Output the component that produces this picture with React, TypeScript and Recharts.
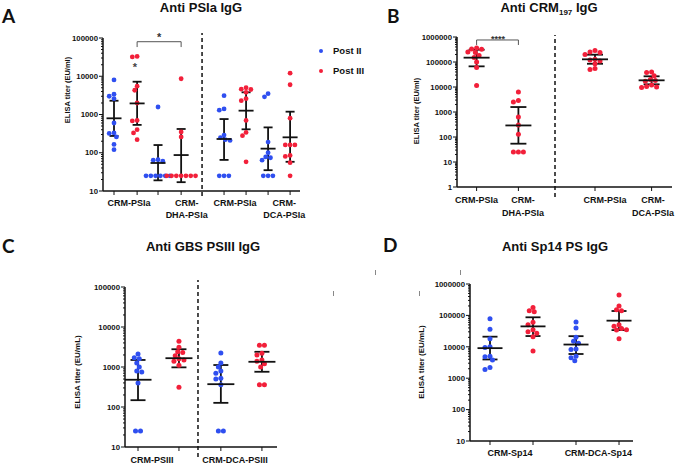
import React from 'react';
import {
  ScatterChart,
  Scatter,
  XAxis,
  YAxis,
  ErrorBar,
  ReferenceLine,
  ReferenceDot,
} from 'recharts';

const BLUE = '#2f4ff0';
const RED = '#f2203a';
const INK = '#111';
const FONT = '"Liberation Sans", Arial, sans-serif';

// ---------- Panel A: Anti PSIa IgG (EU/ml) ----------
const aCategories = ['CRM-PSIa', 'CRM-DHA-PSIa', 'CRM-PSIa', 'CRM-DCA-PSIa'];
const aPostII = [
  [8000, 3400, 3000, 2600, 600, 330, 320, 260, 165, 120],
  [1570, 66, 64, 60, 25, 25, 25, 25, 25, 25],
  [3100, 1400, 1300, 290, 250, 220, 210, 25, 25, 25],
  [3500, 2900, 190, 100, 78, 74, 64, 25, 25, 25],
];
const aPostIII = [
  [33000, 32000, 5500, 4300, 2000, 700, 680, 400, 330, 220],
  [8600, 350, 260, 25, 25, 25, 25, 25, 25, 25],
  [5000, 4600, 4500, 3800, 2600, 2300, 700, 340, 280, 58],
  [12000, 6000, 800, 160, 160, 160, 85, 80, 55, 25],
];
const aPostIIMean = [795, 54, 229, 128];
const aPostIICI = [[275, 2290], [19, 159], [65, 760], [35, 460]];
const aPostIIIMean = [1950, 87, 1260, 253];
const aPostIIICI = [[535, 7200], [17, 418], [410, 3800], [58, 1185]];

// ---------- Panel B: Anti CRM197 IgG (Post III only) ----------
const bCategories = ['CRM-PSIa', 'CRM-DHA-PSIa', 'CRM-PSIa', 'CRM-DCA-PSIa'];
const bPostIII = [
  [360000, 330000, 320000, 250000, 240000, 180000, 150000, 100000, 60000, 11500],
  [6300, 2900, 2500, 630, 300, 130, 25, 25, 25],
  [290000, 250000, 240000, 200000, 130000, 120000, 110000, 85000, 55000, 50000],
  [40000, 38000, 28000, 20000, 18000, 17000, 12000, 10500, 10000, 9500],
];
const bMean = [149000, 290, 128000, 18500];
const bCI = [[67000, 310000], [54, 1580], [85000, 196000], [12800, 26800]];

// ---------- Panel C: Anti GBS PSIII IgG (EU/mL) ----------
const cCategories = ['CRM-PSIII', 'CRM-DCA-PSIII'];
const cPostII = [
  [2100, 1700, 1600, 1250, 1000, 800, 750, 400, 25, 25],
  [2250, 1250, 1000, 800, 700, 520, 500, 360, 25, 25],
];
const cPostIII = [
  [4400, 3100, 2400, 2300, 1900, 1600, 1500, 1400, 1100, 310],
  [3500, 3500, 2200, 2000, 1500, 1400, 1200, 1000, 360, 360],
];
const cPostIIMean = [480, 372];
const cPostIICI = [[148, 1500], [127, 1120]];
const cPostIIIMean = [1660, 1350];
const cPostIIICI = [[980, 2780], [760, 2400]];

// ---------- Panel D: Anti Sp14 PS IgG (EU/mL) ----------
const dCategories = ['CRM-Sp14', 'CRM-DCA-Sp14'];
const dPostII = [
  [78000, 36000, 18000, 10000, 9500, 5000, 4800, 3800, 2200, 1900],
  [62000, 40000, 20000, 15000, 13000, 8500, 8200, 5000, 4500, 3600],
];
const dPostIII = [
  [180000, 140000, 130000, 60000, 50000, 35000, 30000, 27000, 21000, 7400],
  [450000, 200000, 150000, 140000, 50000, 45000, 38000, 35000, 34000, 18000],
];
const dPostIIMean = [9060, 11800];
const dPostIICI = [[3950, 21000], [5900, 21800]];
const dPostIIIMean = [44700, 68000];
const dPostIIICI = [[22000, 87000], [34000, 138000]];

type Group = { pos: number; values: number[]; color: string; mean: number; ci: number[] };

// spread equal / close values sideways (simple beeswarm), offsets in x units
function swarm(values: number[], pxX: number, pxDec: number, r: number) {
  const sorted = [...values].sort((a, b) => b - a);
  const placed: { x: number; y: number; v: number }[] = [];
  const minDist = 1.8 * r;
  const step = 0.5 * r;
  for (const v of sorted) {
    const y = Math.log10(v) * pxDec;
    let dx = 0;
    for (let k = 0; k < 80; k++) {
      const cand = (k % 2 === 1 ? -1 : 1) * Math.ceil(k / 2) * step;
      if (placed.every((p) => Math.hypot(p.x - cand, p.y - y) >= minDist)) {
        dx = cand;
        break;
      }
    }
    placed.push({ x: dx, y, v });
  }
  // recentre runs of identical values
  const byVal = new Map<number, typeof placed>();
  placed.forEach((p) => byVal.set(p.v, [...(byVal.get(p.v) || []), p]));
  byVal.forEach((run) => {
    if (run.length < 2) return;
    const m = run.reduce((s, p) => s + p.x, 0) / run.length;
    run.forEach((p) => (p.x -= m));
  });
  return placed.map((p) => ({ dx: p.x / pxX, v: p.v }));
}

type PanelProps = {
  left: number;
  top: number;
  width: number;
  height: number;
  yAxisW: number;
  marginTop: number;
  marginRight: number;
  xAxisH: number;
  yDomain: [number, number];
  xDomain: [number, number];
  groups: Group[];
  dividers: { x: number; y0: number; y1: number }[];
  labels: { x: number; lines: string[] }[];
  labelY: number[];
  meanHalf: number;
  capW: number;
  r: number;
  extra?: React.ReactNode;
};

function Panel(p: PanelProps) {
  const plotW = p.width - p.yAxisW - p.marginRight;
  const plotH = p.height - p.marginTop - p.xAxisH;
  const decades = Math.log10(p.yDomain[1]) - Math.log10(p.yDomain[0]);
  const pxX = plotW / (p.xDomain[1] - p.xDomain[0]);
  const pxDec = plotH / decades;

  const yTicks: number[] = [];
  for (let d = p.yDomain[0]; d <= p.yDomain[1]; d *= 10) {
    yTicks.push(d);
    if (d < p.yDomain[1]) for (let m = 2; m <= 9; m++) yTicks.push(d * m);
  }
  const groupPos = p.groups.map((g) => g.pos);
  const xTicks = Array.from(new Set([...groupPos, ...p.labels.map((l) => l.x)])).sort((a, b) => a - b);

  const yTick = (props: any) => {
    const { x, y, payload } = props;
    const v = payload.value;
    const lg = Math.log10(v);
    const major = Math.abs(lg - Math.round(lg)) < 1e-6;
    return (
      <g>
        <line x1={x - (major ? 4 : 2)} x2={x} y1={y} y2={y} stroke={INK} strokeWidth={1} />
        {major && (
          <text x={x - 5} y={y} dy="0.35em" textAnchor="end" fontSize={7.8} fontWeight="bold" fontFamily={FONT} fill={INK}>
            {v}
          </text>
        )}
      </g>
    );
  };

  const xTick = (props: any) => {
    const { x, y, payload } = props;
    const v = payload.value;
    const isGroup = groupPos.some((g) => Math.abs(g - v) < 1e-9);
    const lab = p.labels.find((l) => Math.abs(l.x - v) < 1e-9);
    return (
      <g>
        {isGroup && <line x1={x} x2={x} y1={y} y2={y + 4} stroke={INK} strokeWidth={1} />}
        {lab &&
          lab.lines.map((t, i) => (
            <text key={i} x={x} y={y + p.labelY[i]} textAnchor="middle" fontSize={9} fontWeight="bold" fontFamily={FONT} fill={INK}>
              {t}
            </text>
          ))}
      </g>
    );
  };

  const stats = p.groups.map((g) => ({ x: g.pos, y: g.mean, err: [g.mean - g.ci[0], g.ci[1] - g.mean] }));

  return (
    <div style={{ position: 'absolute', left: p.left, top: p.top }}>
      <ScatterChart
        width={p.width}
        height={p.height}
        margin={{ top: p.marginTop, right: p.marginRight, bottom: 0, left: 0 }}
      >
        <XAxis
          type="number"
          dataKey="x"
          domain={p.xDomain}
          allowDataOverflow
          ticks={xTicks}
          interval={0}
          tick={xTick}
          tickLine={false}
          tickSize={0}
          tickMargin={0}
          height={p.xAxisH}
          axisLine={{ stroke: INK, strokeWidth: 1.5 }}
        />
        <YAxis
          type="number"
          dataKey="y"
          scale="log"
          domain={p.yDomain}
          allowDataOverflow
          ticks={yTicks}
          interval={0}
          tick={yTick}
          tickLine={false}
          tickSize={0}
          tickMargin={0}
          width={p.yAxisW}
          axisLine={{ stroke: INK, strokeWidth: 1.5 }}
        />
        {p.dividers.map((d, i) => (
          <ReferenceLine
            key={'div' + i}
            segment={[{ x: d.x, y: d.y0 }, { x: d.x, y: d.y1 }]}
            stroke={INK}
            strokeWidth={1.5}
            strokeDasharray="4 3"
            ifOverflow="visible"
          />
        ))}
        {p.groups.map((g, gi) => (
          <Scatter
            key={'g' + gi}
            data={swarm(g.values, pxX, pxDec, p.r).map((s) => ({ x: g.pos + s.dx, y: s.v }))}
            isAnimationActive={false}
            shape={(s: any) => <circle cx={s.cx} cy={s.cy} r={p.r} fill={g.color} />}
          />
        ))}
        <Scatter
          data={stats}
          isAnimationActive={false}
          shape={(s: any) => (
            <line x1={s.cx - p.meanHalf} x2={s.cx + p.meanHalf} y1={s.cy} y2={s.cy} stroke={INK} strokeWidth={1.8} />
          )}
        >
          <ErrorBar dataKey="err" direction="y" width={p.capW} stroke={INK} strokeWidth={1.8} />
        </Scatter>
        {p.extra}
      </ScatterChart>
    </div>
  );
}

const buildGroups = (
  pos: number[],
  ii: number[][] | null,
  iii: number[][],
  iiMean: number[] | null,
  iiCI: number[][] | null,
  iiiMean: number[],
  iiiCI: number[][],
): Group[] => {
  const out: Group[] = [];
  let k = 0;
  iii.forEach((vals, i) => {
    if (ii && iiMean && iiCI) {
      out.push({ pos: pos[k++], values: ii[i], color: BLUE, mean: iiMean[i], ci: iiCI[i] });
    }
    out.push({ pos: pos[k++], values: vals, color: RED, mean: iiiMean[i], ci: iiiCI[i] });
  });
  return out;
};

const textBase: React.CSSProperties = {
  position: 'absolute',
  fontFamily: FONT,
  fontWeight: 'bold',
  color: INK,
  whiteSpace: 'nowrap',
  lineHeight: 1,
};

const Letter = ({ x, y, t }: { x: number; y: number; t: string }) => (
  <div style={{ ...textBase, left: x, top: y, fontSize: 19, fontFamily: 'Lato, "Open Sans", sans-serif' }}>{t}</div>
);
const Title = ({ x, y, children }: { x: number; y: number; children: React.ReactNode }) => (
  <div style={{ ...textBase, left: x, top: y, fontSize: 13, transform: 'translateX(-50%)' }}>{children}</div>
);
const YLabel = ({ x, y, t, size }: { x: number; y: number; t: string; size: number }) => (
  <div
    style={{
      ...textBase,
      left: x,
      top: y,
      fontSize: size,
      transform: 'translate(-50%, -50%) rotate(-90deg)',
    }}
  >
    {t}
  </div>
);
const Tick = ({ x, y }: { x: number; y: number }) => (
  <div style={{ position: 'absolute', left: x, top: y, width: 1, height: 5, background: '#888' }} />
);

const starShape = (txt: string, size: number, color: string) => (s: any) => (
  <text x={s.cx} y={s.cy + size * 0.55} textAnchor="middle" fontSize={size} fontWeight="bold" fontFamily={FONT} fill={color}>
    {txt}
  </text>
);

export default function App() {
  const aGroups = buildGroups([0.5, 1.55, 2.5, 3.55, 5.5, 6.5, 7.5, 8.5], aPostII, aPostIII, aPostIIMean, aPostIICI, aPostIIIMean, aPostIIICI);
  const bGroups = buildGroups([0.98, 3.07, 6.9, 9.73], null, bPostIII, null, null, bMean, bCI);
  const cGroups = buildGroups([0.95, 3.94, 7.0, 10.0], cPostII, cPostIII, cPostIIMean, cPostIICI, cPostIIIMean, cPostIIICI);
  const dGroups = buildGroups([0.93, 2.93, 4.93, 6.93], dPostII, dPostIII, dPostIIMean, dPostIICI, dPostIIIMean, dPostIIICI);

  const splitLabel = (c: string) => (c.split('-').length > 2 ? ['CRM-', c.slice(4)] : [c]);

  return (
    <div style={{ position: 'absolute', left: 0, top: 0, width: 676, height: 466, background: '#fff', overflow: 'hidden' }}>
      {/* Panel A */}
      <Panel
        left={0}
        top={0}
        width={340}
        height={230}
        yAxisW={103}
        marginTop={38}
        marginRight={40}
        xAxisH={39}
        yDomain={[10, 100000]}
        xDomain={[0, 8.95]}
        groups={aGroups}
        dividers={[{ x: 4.5, y0: 7.4, y1: 135000 }]}
        labels={[1.18, 3.8, 6.0, 8.23].map((x, i) => ({ x, lines: splitLabel(aCategories[i]) }))}
        labelY={[15, 27]}
        meanHalf={7.5}
        capW={4.5}
        r={2.4}
        extra={[
          <ReferenceLine key="b1" segment={[{ x: 1.55, y: 58000 }, { x: 1.55, y: 80000 }]} stroke="#555" strokeWidth={1} />,
          <ReferenceLine key="b2" segment={[{ x: 1.55, y: 80000 }, { x: 3.55, y: 80000 }]} stroke="#555" strokeWidth={1} />,
          <ReferenceLine key="b3" segment={[{ x: 3.55, y: 80000 }, { x: 3.55, y: 58000 }]} stroke="#555" strokeWidth={1} />,
          <ReferenceDot key="s1" x={2.55} y={118000} ifOverflow="visible" shape={starShape('*', 11, '#333')} />,
          <ReferenceDot key="s2" x={1.45} y={20000} shape={starShape('*', 11, '#444')} />,
        ]}
      />
      <Letter x={2} y={6} t="A" />
      <Title x={201} y={1}>Anti PSIa IgG</Title>
      <YLabel x={68} y={90} t="ELISA titer (EU/ml)" size={7.5} />
      <div style={{ position: 'absolute', left: 319, top: 49, width: 4, height: 4, borderRadius: 2, background: BLUE }} />
      <div style={{ ...textBase, left: 333, top: 46, fontSize: 9.5 }}>Post II</div>
      <div style={{ position: 'absolute', left: 319, top: 69, width: 4, height: 4, borderRadius: 2, background: RED }} />
      <div style={{ ...textBase, left: 333, top: 66, fontSize: 9.5 }}>Post III</div>

      {/* Panel B */}
      <Panel
        left={340}
        top={0}
        width={336}
        height={230}
        yAxisW={117}
        marginTop={37}
        marginRight={4}
        xAxisH={43}
        yDomain={[1, 1000000]}
        xDomain={[0, 10.75]}
        groups={bGroups}
        dividers={[{ x: 4.9, y0: 0.4, y1: 1200000 }]}
        labels={[0.98, 3.3, 7.4, 9.8].map((x, i) => ({ x, lines: splitLabel(bCategories[i]) }))}
        labelY={[16, 29]}
        meanHalf={13}
        capW={8}
        r={2.5}
        extra={[
          <ReferenceLine key="b1" segment={[{ x: 0.98, y: 480000 }, { x: 0.98, y: 760000 }]} stroke="#555" strokeWidth={1} />,
          <ReferenceLine key="b2" segment={[{ x: 0.98, y: 760000 }, { x: 3.07, y: 760000 }]} stroke="#555" strokeWidth={1} />,
          <ReferenceLine key="b3" segment={[{ x: 3.07, y: 760000 }, { x: 3.07, y: 480000 }]} stroke="#555" strokeWidth={1} />,
          <ReferenceDot key="s1" x={2.05} y={1000000} ifOverflow="visible" shape={starShape('****', 9, '#333')} />,
        ]}
      />
      <Letter x={387} y={6} t="B" />
      <div style={{ ...textBase, left: 549, top: 1, fontSize: 13, transform: 'translateX(-50%)' }}>
        Anti CRM<sub style={{ fontSize: 8, verticalAlign: -3 }}>197</sub> IgG
      </div>
      <YLabel x={417} y={111} t="ELISA titer (EU/ml)" size={7.5} />

      {/* Panel C */}
      <Panel
        left={0}
        top={230}
        width={340}
        height={236}
        yAxisW={125}
        marginTop={57}
        marginRight={63}
        xAxisH={19}
        yDomain={[10, 100000]}
        xDomain={[0, 11.1]}
        groups={cGroups}
        dividers={[{ x: 5.33, y0: 5.6, y1: 150000 }]}
        labels={[1.97, 8.03].map((x, i) => ({ x, lines: [cCategories[i]] }))}
        labelY={[16]}
        meanHalf={13.5}
        capW={7.5}
        r={2.5}
      />
      <Letter x={2} y={236} t="C" />
      <Title x={203} y={240}>Anti GBS PSIII IgG</Title>
      <YLabel x={78} y={372} t="ELISA titer (EU/mL)" size={8} />
      <Tick x={333} y={291} />

      {/* Panel D */}
      <Panel
        left={340}
        top={230}
        width={336}
        height={236}
        yAxisW={130}
        marginTop={54}
        marginRight={43}
        xAxisH={25}
        yDomain={[10, 1000000]}
        xDomain={[0, 7.58]}
        groups={dGroups}
        dividers={[]}
        labels={[1.86, 5.97].map((x, i) => ({ x, lines: [dCategories[i]] }))}
        labelY={[15]}
        meanHalf={12.5}
        capW={7.5}
        r={2.5}
      />
      <Letter x={383} y={235} t="D" />
      <Title x={555} y={240}>Anti Sp14 PS IgG</Title>
      <YLabel x={422} y={362} t="ELISA titer (EU/mL)" size={8} />
      <Tick x={375} y={270} />
      <Tick x={460} y={270} />
      <Tick x={419} y={291} />
    </div>
  );
}
